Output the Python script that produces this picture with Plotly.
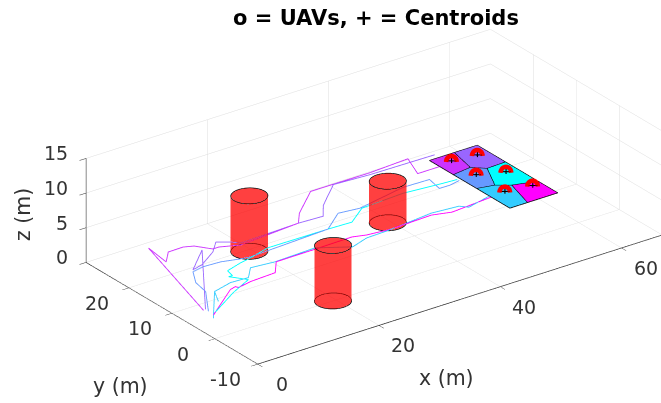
import numpy as np
import plotly.graph_objects as go

# --- chart values (metres) ---
orchid_x = [1.41, 6.78, 6.17, 8.19, 10.68, 12.03, 13.52, 14.51, 17.21, 27.35, 29.24, 34.37, 37.97, 44.18, 50.73, 49.1, 52.69]
orchid_y = [4.62, 25.03, 20.05, 22.4, 22.46, 21.82, 19.54, 19.55, 18.28, 19.16, 21.6, 26.26, 26.26, 26.21, 26.68, 22.09, 22.09]
violet_x = [1.8, 6.99, 12.17, 7.62, 9.47, 12.98, 15.09, 16.69, 17.57, 27.35, 31.26, 33.24, 38.08, 43.82, 54.32]
violet_y = [4.71, 12.44, 20.16, 15.85, 16.38, 18.78, 21.06, 19.85, 18.79, 19.16, 18.91, 21.68, 26.17, 25.71, 25.51]
corn_x = [1.76, 5.04, 5.6, 7.26, 9.22, 12.03, 14.69, 16.12, 29.46, 33.39, 36.63, 44.99, 49.3, 48.74, 50.35, 52.31]
corn_y = [3.97, 9.25, 12.33, 15.34, 15.8, 15.61, 14.75, 14.45, 15.23, 18.45, 17.95, 19.77, 19.62, 16.54, 16.49, 16.95]
cyan_x = [1.75, 7.84, 11.78, 10.19, 10.79, 11.16, 13.97, 15.94, 19.55, 29.46, 33.27, 36.85, 43.91, 49.96, 52.28]
cyan_y = [2.81, 6.75, 8.82, 11.18, 11.12, 12.78, 13.74, 14.2, 15.35, 15.23, 15.05, 17.79, 18.26, 17.56, 17.36]
sky_x = [1.04, 6.0, 4.62, 6.0, 9.32, 12.14, 14.15, 17.88, 24.65, 28.88, 31.99, 35.87, 43.39, 47.63, 48.52, 52.62]
sky_y = [1.8, 8.53, 5.68, 8.53, 9.51, 9.32, 11.67, 11.18, 11.49, 8.67, 9.81, 9.98, 10.88, 10.39, 9.33, 10.49]
mag_x = [1.57, 8.06, 9.13, 9.27, 11.63, 15.91, 17.99, 24.08, 30.57, 32.53, 36.27, 43.03, 45.81, 52.66]
mag_y = [2.56, 7.75, 8.09, 7.6, 8.14, 8.4, 11.1, 11.14, 11.27, 10.57, 10.07, 10.38, 9.44, 10.08]
path_z = 2.0

paths = [(orchid_x, orchid_y, "#cc33ff"), (violet_x, violet_y, "#9966ff"), (corn_x, corn_y, "#6699ff"),
         (cyan_x, cyan_y, "#00ffff"), (sky_x, sky_y, "#33ccff"), (mag_x, mag_y, "#ff00ff")]

cyl_x = [19.5, 19.5, 39.5]
cyl_y = [19.5, 0.0, 15.5]
cyl_h = [8.0, 8.0, 6.0]
cyl_r = 2.5

# Voronoi cells on the target area
V = dict(L=(52.7, 24.45), a=(56.8, 24.45), b=(55.82, 19.34), c=(52.7, 18.86), T=(60.6, 24.45),
         e=(60.6, 17.86), d=(57.45, 17.71), f=(55.24, 12.79), h=(52.7, 13.41), j=(60.6, 10.25),
         g=(57.05, 11.42), i=(55.6, 5.7), B=(52.7, 5.7), R=(60.6, 5.7))
cells = [("Labc", "#cc33ff"), ("aTedb", "#9966ff"), ("cbdfh", "#6699ff"),
         ("dejgf", "#00ffff"), ("hfgiB", "#33ccff"), ("gjRi", "#ff00ff")]
cent_x = [54.69, 58.54, 54.84, 58.57, 54.87, 58.93]
cent_y = [22.13, 21.55, 16.59, 14.92, 9.96, 9.21]

x_range = [0, 66.7]
y_range = [-10, 30]
z_range = [0, 15]
x_ticks = [0, 20, 40, 60]
y_ticks = [-10, 0, 10, 20]
z_ticks = [0, 5, 10, 15]

fig = go.Figure()

for px, py, col in paths:
    fig.add_trace(go.Scatter3d(x=px, y=py, z=[path_z] * len(px), mode="lines",
                               line=dict(color=col, width=1.8), showlegend=False, hoverinfo="skip"))

# cylinders
ang = np.linspace(0, 2 * np.pi, 61)
for cx, cy, h in zip(cyl_x, cyl_y, cyl_h):
    rx = cx + cyl_r * np.cos(ang)
    ry = cy + cyl_r * np.sin(ang)
    n = len(ang)
    X = np.concatenate([rx, rx, [cx, cx]])
    Y = np.concatenate([ry, ry, [cy, cy]])
    Z = np.concatenate([np.zeros(n), np.full(n, h), [0, h]])
    I, J, K = [], [], []
    for s in range(n - 1):
        I += [s, s, 2 * n, n + s]
        J += [s + 1, n + s + 1, s, n + s + 1]
        K += [n + s + 1, n + s, s + 1, 2 * n + 1]
    fig.add_trace(go.Mesh3d(x=X, y=Y, z=Z, i=I, j=J, k=K, color="#ff0000", opacity=0.5,
                            flatshading=True, lighting=dict(ambient=1, diffuse=0, specular=0),
                            showscale=False, hoverinfo="skip"))
    for zz in (0, h):
        fig.add_trace(go.Scatter3d(x=rx, y=ry, z=[zz] * n, mode="lines", line=dict(color="black", width=1.5),
                                   showlegend=False, hoverinfo="skip"))

# cells
for names, col in cells:
    pts = [V[c] for c in names]
    xs = [p[0] for p in pts]
    ys = [p[1] for p in pts]
    m = len(pts)
    fig.add_trace(go.Mesh3d(x=xs, y=ys, z=[path_z] * m, i=[0] * (m - 2), j=list(range(1, m - 1)),
                            k=list(range(2, m)), color=col, opacity=1, flatshading=True,
                            lighting=dict(ambient=1, diffuse=0, specular=0), hoverinfo="skip"))
    fig.add_trace(go.Scatter3d(x=xs + xs[:1], y=ys + ys[:1], z=[path_z + 0.02] * (m + 1), mode="lines",
                               line=dict(color="black", width=1.5), showlegend=False, hoverinfo="skip"))

# UAVs and centroids
arc = np.linspace(0, np.pi, 15)
arc_r = 0.72
for cx, cy in zip(cent_x, cent_y):
    fig.add_trace(go.Scatter3d(x=cx + arc_r * 0.806 * np.cos(arc), y=cy - arc_r * 0.592 * np.cos(arc),
                               z=path_z + 0.1 + 1.2 * arc_r * np.sin(arc), mode="lines",
                               line=dict(color="#ff0000", width=9), showlegend=False, hoverinfo="skip"))
fig.add_trace(go.Scatter3d(x=cent_x, y=cent_y, z=[path_z + 0.3] * len(cent_x), mode="markers",
                           marker=dict(symbol="cross", size=5, color="black"), showlegend=False, hoverinfo="skip"))

def ax(rng, ticks):
    return dict(range=rng, tickvals=ticks, showticklabels=False, title=dict(text=""),
                showbackground=False, showgrid=True, gridcolor="#dddddd", gridwidth=1,
                showline=True, linecolor="#262626", linewidth=1.5, ticks="outside", ticklen=8,
                tickcolor="#262626",
                zeroline=False, showspikes=False, autorange=False)

d = 2.0
center = np.array([-0.181, 0.119, -0.021])
eye_dir = np.array([-0.533, -0.726, 0.435])
eye = center + d * eye_dir

TEXT = "#333333"

def label(text, px, py, size=20.5, color=TEXT, angle=0):
    return dict(text=text, x=px / 661, y=1 - py / 403, xref="paper", yref="paper", showarrow=False,
                xanchor="center", yanchor="middle", textangle=angle,
                font=dict(family="DejaVu Sans", size=size, color=color))

def tick_label(t, x, y, z, xs, ys, anchor="center"):
    return dict(text=str(t), x=x, y=y, z=z, showarrow=False, xshift=xs, yshift=ys, xanchor=anchor, yanchor="middle",
                font=dict(family="DejaVu Sans", size=19, color=TEXT))

scene_notes = ([tick_label(t, t, y_range[0], 0, 24, -20) for t in x_ticks]
               + [tick_label(t, x_range[0], t, 0, -32, -15) for t in y_ticks]
               + [tick_label(t, x_range[0], y_range[1], t, -16, 5, "right") for t in z_ticks])

fig.update_layout(
    width=661, height=403, margin=dict(l=0, r=0, t=0, b=0), paper_bgcolor="white", showlegend=False,
    scene=dict(domain=dict(x=[0, 1], y=[0, 1]),
               xaxis=ax(x_range, x_ticks), yaxis=ax(y_range, y_ticks), zaxis=ax(z_range, z_ticks),
               aspectmode="manual", aspectratio=dict(x=2.49, y=1.44, z=0.573),
               annotations=scene_notes,
               camera=dict(projection=dict(type="orthographic"), up=dict(x=0, y=0, z=1),
                           eye=dict(x=eye[0], y=eye[1], z=eye[2]),
                           center=dict(x=center[0], y=center[1], z=center[2]))),
    annotations=[
        label("<b>o = UAVs, + = Centroids</b>", 376, 18, size=21, color="black"),
        label("x (m)", 447, 378),
        label("y (m)", 120, 386),
        label("z (m)", 23, 215, angle=-90),
    ],
)
fig.write_html("out.html", config=dict(displayModeBar=False),
               post_script="document.body.style.margin='0';document.documentElement.style.overflow='hidden';")
